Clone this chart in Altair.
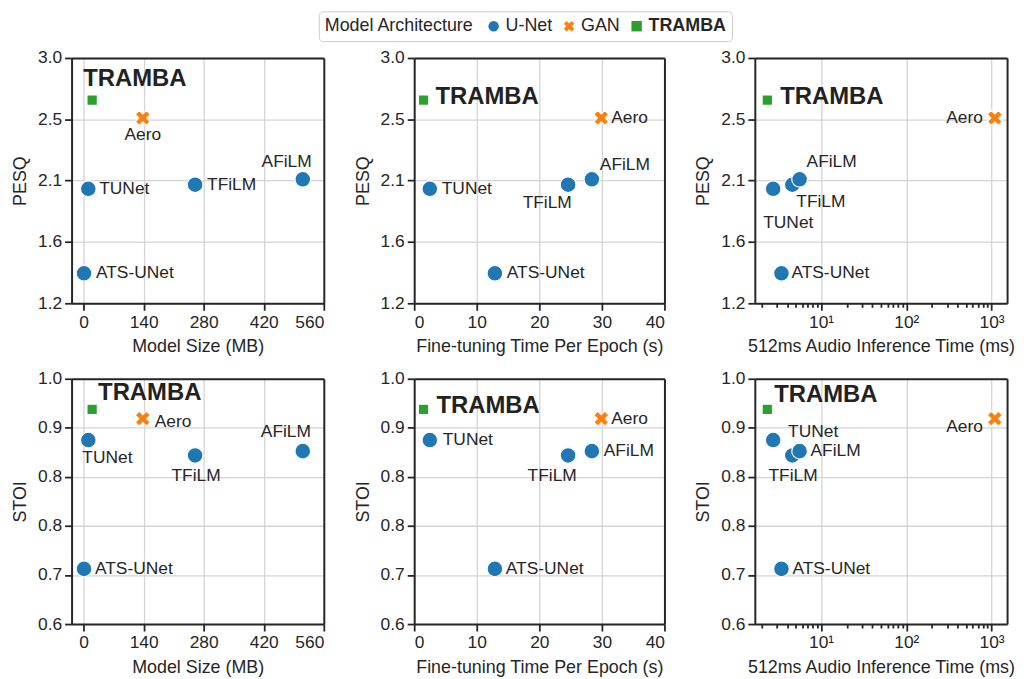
import altair as alt
import pandas as pd
import numpy as np

# ---- data ----
models = ["TRAMBA", "Aero", "TUNet", "TFiLM", "AFiLM", "ATS-UNet"]
archs = ["TRAMBA", "GAN", "U-Net", "U-Net", "U-Net", "U-Net"]
model_size_mb = [20, 138, 11, 260, 511, 1]
finetune_s = [1.5, 29.9, 2.5, 24.6, 28.4, 12.9]
inference_ms = [2.34, 1091, 2.74, 4.6, 5.6, 3.43]
pesq = [2.69, 2.56, 2.04, 2.07, 2.11, 1.42]
stoi = [0.95, 0.935, 0.90, 0.875, 0.882, 0.69]

arch_order = ["U-Net", "GAN", "TRAMBA"]
pesq_ticks = [1.2, 1.65, 2.1, 2.55, 3.0]
stoi_ticks = [0.6, 0.68, 0.76, 0.84, 0.92, 1.0]
size_ticks = [0, 140, 280, 420, 560]
ft_ticks = [0, 10, 20, 30, 40]
inf_ticks = [m * 10 ** e for e in range(0, 3) for m in range(2, 10) if m * 10 ** e > 1.67] + [10, 100, 1000]

df = pd.DataFrame({
    "model": models, "arch": archs, "size": model_size_mb, "ft": finetune_s,
    "inf": inference_ms, "pesq": pesq, "stoi": stoi,
})

# ---- style ----
colors = ["#1f77b4", "#ff7f0e", "#2ca02c"]
w = 0.36
pts = [(-w, -1), (w, -1), (w, -w), (1, -w), (1, w), (w, w), (w, 1), (-w, 1), (-w, w), (-1, w), (-1, -w), (-w, -w)]
c = np.cos(np.pi / 4)
ext = (1 + w) * c
rot = [((x * c - y * c) / ext, (x * c + y * c) / ext) for x, y in pts]
XPATH = "M" + "L".join(f"{x:.3f},{y:.3f}" for x, y in rot) + "Z"
shapes = ["circle", XPATH, "square"]
sizes = {"U-Net": 250, "GAN": 230, "TRAMBA": 110}
TXT = "#262626"

leg = alt.Legend(
    title="Model Architecture", orient="none", legendX=249, legendY=-47,
    direction="horizontal", titleOrient="left", titleFontSize=18, titleFontWeight="normal",
    titleColor=TXT, labelFontSize=18, labelColor=TXT,
    labelFontWeight={"expr": "datum.label == 'TRAMBA' ? 'bold' : 'normal'"},
    symbolSize=110, fillColor="white", strokeColor="#cccccc", cornerRadius=4,
    padding=6, columnPadding=7, labelOffset=3, titlePadding=10, symbolStrokeWidth=0,
)

decade = "indexof([10,100,1000], datum.value) >= 0"

def axis_lin(values, fmt=None):
    kw = dict(values=values, tickSize=7)
    if fmt:
        kw["format"] = fmt
    return alt.Axis(**kw)

axes = {
    "size": ("Model Size (MB)", alt.Scale(domain=[-28, 560], nice=False, zero=False), axis_lin(size_ticks, "d")),
    "ft": ("Fine-tuning Time Per Epoch (s)", alt.Scale(domain=[0, 40], nice=False), axis_lin(ft_ticks, "d")),
    "inf": ("512ms Audio Inference Time (ms)",
            alt.Scale(type="log", domain=[1.67, 1520], nice=False),
            alt.Axis(values=inf_ticks,
                     labelExpr="datum.value == 10 ? '10¹' : datum.value == 100 ? '10²' : datum.value == 1000 ? '10³' : ''",
                     gridOpacity={"condition": {"test": decade, "value": 1}, "value": 0},
                     tickSize={"condition": {"test": decade, "value": 7}, "value": 4})),
    "pesq": ("PESQ", alt.Scale(domain=[1.2, 3.0], nice=False, zero=False), axis_lin(pesq_ticks, ".1f")),
    "stoi": ("STOI", alt.Scale(domain=[0.6, 1.0], nice=False, zero=False), axis_lin(stoi_ticks, ".1f")),
}

# label placement per panel: (align, dx, dy)
place = {
    ("size", "pesq"): {"TRAMBA": ("left", -9, -21), "Aero": ("center", 0, 17), "TUNet": ("left", 11, 0),
                       "TFiLM": ("left", 12, 0), "AFiLM": ("right", 9, -17), "ATS-UNet": ("left", 12, 0)},
    ("ft", "pesq"): {"TRAMBA": ("left", 12, -3), "Aero": ("left", 10, 0), "TUNet": ("left", 12, 0),
                     "TFiLM": ("center", -21, 18), "AFiLM": ("left", 8, -14), "ATS-UNet": ("left", 12, 0)},
    ("inf", "pesq"): {"TRAMBA": ("left", 13, -3), "Aero": ("right", -12, 0), "TUNet": ("left", -10, 34),
                      "TFiLM": ("left", 4, 17), "AFiLM": ("left", 7, -17), "ATS-UNet": ("left", 10, 0)},
    ("size", "stoi"): {"TRAMBA": ("left", 6, -16), "Aero": ("left", 12, 3), "TUNet": ("left", -6, 18),
                       "TFiLM": ("center", 1, 21), "AFiLM": ("center", -17, -19), "ATS-UNet": ("left", 11, 0)},
    ("ft", "stoi"): {"TRAMBA": ("left", 13, -3), "Aero": ("left", 10, 0), "TUNet": ("left", 13, 0),
                     "TFiLM": ("center", -16, 21), "AFiLM": ("left", 12, 0), "ATS-UNet": ("left", 11, 0)},
    ("inf", "stoi"): {"TRAMBA": ("left", 7, -14), "Aero": ("right", -12, 8), "TUNet": ("left", 15, -8),
                      "TFiLM": ("left", -24, 21), "AFiLM": ("left", 11, 0), "ATS-UNet": ("left", 11, 0)},
}

widths = {"size": 254, "ft": 252, "inf": 254}

frame_kw = dict(labels=False, ticks=False, grid=False, title=None, domain=True,
                domainColor=TXT, domainWidth=2, zindex=1)

def panel(xk, yk):
    xt, xs, xa = axes[xk]
    yt, ys, ya = axes[yk]
    xe = alt.X(f"{xk}:Q", scale=xs, axis=xa, title=xt)
    ye = alt.Y(f"{yk}:Q", scale=ys, axis=ya, title=yt)
    xn = alt.X(f"{xk}:Q", scale=xs, axis=None)
    yn = alt.Y(f"{yk}:Q", scale=ys, axis=None)
    base = alt.Chart(df)
    layers = []
    for i, a in enumerate(arch_order):
        layers.append(
            base.transform_filter(alt.datum.arch == a)
            .mark_point(filled=True, opacity=1, size=sizes[a], stroke="white", strokeWidth=1.2)
            .encode(
                x=xe if i == 0 else xn, y=ye if i == 0 else yn,
                color=alt.Color("arch:N", scale=alt.Scale(domain=arch_order, range=colors), legend=leg),
                shape=alt.Shape("arch:N", scale=alt.Scale(domain=arch_order, range=shapes), legend=leg),
            )
        )
    for m, (al, dx, dy) in place[(xk, yk)].items():
        big = m == "TRAMBA"
        layers.append(
            base.transform_filter(alt.datum.model == m)
            .mark_text(align=al, dx=dx, dy=dy, baseline="middle",
                       fontSize=24 if big else 17.5, fontWeight="bold" if big else "normal",
                       color="#222222" if big else TXT)
            .encode(x=xn, y=yn, text="model:N")
        )
    # top / right frame lines
    layers.append(
        base.mark_point(opacity=0).encode(
            x=alt.X(f"{xk}:Q", scale=xs, axis=alt.Axis(orient="top", **frame_kw)),
            y=alt.Y(f"{yk}:Q", scale=ys, axis=alt.Axis(orient="right", **frame_kw)),
        )
    )
    return (alt.layer(*layers).resolve_axis(x="independent", y="independent")
            .properties(width=widths[xk], height=247))

panels = [panel(x, y) for y in ["pesq", "stoi"] for x in ["size", "ft", "inf"]]

chart = (
    alt.concat(*panels, columns=3, spacing={"row": 76, "column": 91}, bounds="flush")
    .resolve_scale(x="independent", y="independent", color="shared", shape="shared")
    .properties(padding={"left": 3, "top": 0, "right": 2, "bottom": 3})
    .configure(font="Liberation Sans")
    .configure_view(stroke=None)
    .configure_axis(
        labelFontSize=17.5, titleFontSize=18, labelColor=TXT, titleColor=TXT,
        titleFontWeight="normal", tickColor=TXT, tickWidth=1.8, domain=True,
        domainColor=TXT, domainWidth=2,
        gridColor="#d4d4d4", gridWidth=1.3, labelPadding=3,
    )
    .configure_axisX(titlePadding=7)
    .configure_axisY(titlePadding=8)
)

chart.save("out.html", embed_options={"renderer": "svg", "actions": False})
